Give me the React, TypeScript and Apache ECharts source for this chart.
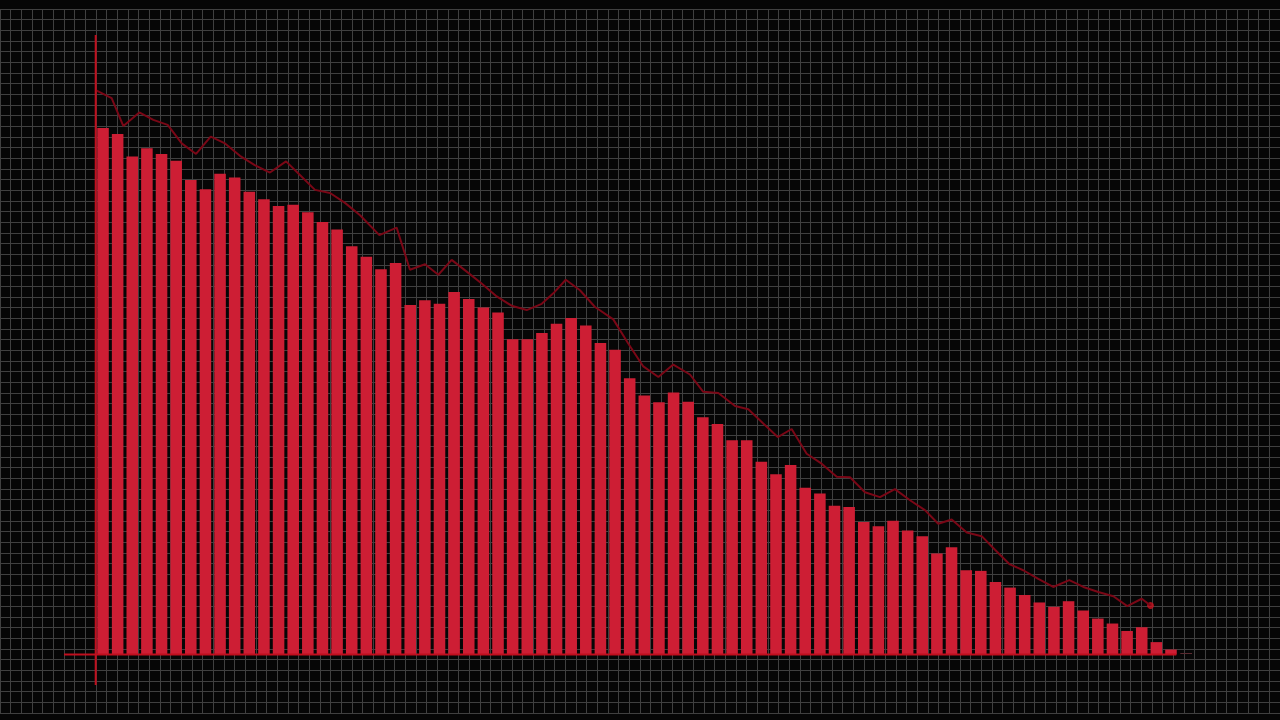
import React, { useEffect, useRef } from "react";
import * as echarts from "echarts";

// Bar values (74 bars), value scale 0..100
const barValues: number[] = [
  85.0, 84.0, 80.4, 81.7, 80.8, 79.7, 76.6, 75.1, 77.6, 77.0,
  74.7, 73.5, 72.4, 72.6, 71.4, 69.8, 68.6, 65.9, 64.2, 62.2,
  63.2, 56.4, 57.2, 56.6, 58.5, 57.4, 56.0, 55.2, 50.9, 50.9,
  51.9, 53.4, 54.3, 53.1, 50.3, 49.2, 44.6, 41.8, 40.7, 42.3,
  40.8, 38.3, 37.2, 34.6, 34.6, 31.1, 29.1, 30.6, 26.9, 26.0,
  24.0, 23.8, 21.4, 20.7, 21.6, 20.0, 19.1, 16.3, 17.3, 13.6,
  13.5, 11.7, 10.8, 9.6, 8.4, 7.7, 8.6, 7.1, 5.8, 5.0,
  3.8, 4.4, 2.0, 0.8,
];

const categories: string[] = barValues.map((_, i) => String(i + 1));

// Line: x positions (in bar-band units) and values
const lineX: number[] = [
  0, 1.09, 1.89, 2.98, 3.94, 4.92, 5.88, 6.86, 7.86, 8.84,
  9.86, 10.87, 11.91, 13.01, 13.96, 14.99, 16.02, 17.04, 18.07, 19.39,
  20.57, 21.48, 22.51, 23.42, 24.33, 25.36, 26.38, 27.41, 28.43, 29.46,
  30.49, 31.28, 32.13, 33.1, 34.13, 35.38, 36.4, 37.43, 38.46, 39.48,
  40.62, 41.53, 42.56, 43.7, 44.61, 45.63, 46.62, 47.57, 48.6, 49.62,
  50.65, 51.56, 52.58, 53.61, 54.63, 55.66, 56.68, 57.59, 58.51, 59.54,
  60.56, 61.47, 62.45, 63.4, 64.43, 65.45, 66.55, 67.51, 68.53, 69.56,
  70.51, 71.5, 72.1,
];

const lineY: number[] = [
  91.1, 89.8, 85.3, 87.5, 86.3, 85.5, 82.5, 80.8, 83.6, 82.5,
  80.5, 79.0, 77.8, 79.6, 77.4, 75.0, 74.5, 72.9, 70.9, 67.7,
  68.9, 62.1, 63.0, 61.3, 63.7, 61.8, 59.9, 57.8, 56.3, 55.6,
  56.6, 58.3, 60.5, 58.8, 56.1, 54.1, 50.2, 46.5, 44.8, 46.8,
  45.2, 42.4, 42.2, 40.1, 39.6, 37.3, 35.1, 36.4, 32.4, 30.8,
  28.7, 28.6, 26.2, 25.4, 26.7, 24.9, 23.3, 21.1, 21.8, 19.7,
  19.1, 16.9, 14.6, 13.6, 12.2, 10.9, 12.0, 10.9, 10.1, 9.4,
  7.8, 9.0, 7.9,
];

const W = 1280;
const H = 720;
const PLOT_LEFT = 95.7;
const PLOT_RIGHT = 1178.3;
const PLOT_TOP = 35;
const PLOT_BOTTOM = 654.5;

export default function App() {
  const ref = useRef<HTMLDivElement>(null);

  useEffect(() => {
    if (!ref.current) return;
    const chart = echarts.init(ref.current, undefined, { renderer: "svg" });
    const linePts = lineX.map((x, i) => [x, lineY[i]]);
    const lastPt = linePts[linePts.length - 1];
    const axisColor = "#c00f1e";
    const gridLine = { show: true, lineStyle: { color: "#404040", width: 1 } };

    chart.setOption({
      animation: false,
      backgroundColor: "#060606",
      grid: [
        { left: 0, right: 0, top: 9, bottom: 7 },
        {
          left: PLOT_LEFT,
          right: W - PLOT_RIGHT,
          top: PLOT_TOP,
          bottom: H - PLOT_BOTTOM,
        },
      ],
      xAxis: [
        {
          type: "value",
          gridIndex: 0,
          min: 0,
          max: 120,
          interval: 1,
          axisLine: { show: false },
          axisTick: { show: false },
          axisLabel: { show: false },
          splitLine: gridLine,
        },
        {
          type: "category",
          gridIndex: 1,
          data: categories,
          boundaryGap: true,
          axisLine: { show: false },
          axisTick: { show: false },
          axisLabel: { show: false },
          splitLine: { show: false },
        },
        {
          type: "value",
          gridIndex: 1,
          min: 0,
          max: categories.length,
          axisLine: { show: false },
          axisTick: { show: false },
          axisLabel: { show: false },
          splitLine: { show: false },
        },
      ],
      yAxis: [
        {
          type: "value",
          gridIndex: 0,
          min: 0,
          max: 66,
          interval: 1,
          axisLine: { show: false },
          axisTick: { show: false },
          axisLabel: { show: false },
          splitLine: gridLine,
        },
        {
          type: "value",
          gridIndex: 1,
          min: 0,
          max: 100,
          axisLine: { show: false },
          axisTick: { show: false },
          axisLabel: { show: false },
          splitLine: { show: false },
        },
      ],
      series: [
        {
          type: "bar",
          xAxisIndex: 1,
          yAxisIndex: 1,
          data: barValues,
          barCategoryGap: "21%",
          itemStyle: { color: "#cd1e34" },
          silent: true,
        },
        {
          type: "line",
          xAxisIndex: 2,
          yAxisIndex: 1,
          data: linePts,
          showSymbol: false,
          lineStyle: { color: "#7a0716", width: 2 },
          silent: true,
        },
        {
          type: "scatter",
          xAxisIndex: 2,
          yAxisIndex: 1,
          data: [lastPt],
          symbol: "circle",
          symbolSize: 7,
          itemStyle: { color: "#c8101e" },
          silent: true,
        },
      ],
      graphic: [
        {
          type: "line",
          shape: { x1: PLOT_LEFT, y1: PLOT_TOP, x2: PLOT_LEFT, y2: 685 },
          style: { stroke: axisColor, lineWidth: 2 },
          z: 100,
        },
        {
          type: "line",
          shape: { x1: 64, y1: PLOT_BOTTOM, x2: PLOT_RIGHT - 2, y2: PLOT_BOTTOM },
          style: { stroke: axisColor, lineWidth: 2 },
          z: 100,
        },
        {
          type: "line",
          shape: { x1: PLOT_RIGHT + 2, y1: PLOT_BOTTOM - 1, x2: 1192, y2: PLOT_BOTTOM - 1 },
          style: { stroke: "#5a2a30", lineWidth: 1 },
          z: 100,
        },
      ],
    });

    return () => chart.dispose();
  }, []);

  return (
    <div
      ref={ref}
      style={{ position: "fixed", left: 0, top: 0, width: W, height: H }}
    />
  );
}
